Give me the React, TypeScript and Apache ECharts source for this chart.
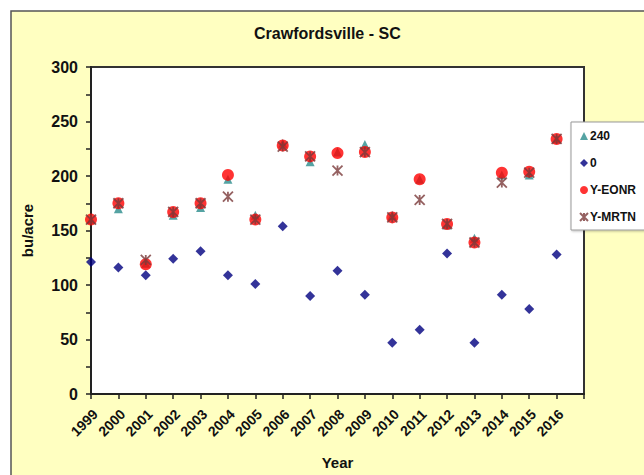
import React, { useEffect, useRef } from "react";
import * as echarts from "echarts";

const years = [1999, 2000, 2001, 2002, 2003, 2004, 2005, 2006, 2007, 2008, 2009, 2010, 2011, 2012, 2013, 2014, 2015, 2016];
const n240 = [160, 170, 120, 164, 171, 197, 164, 230, 213, 222, 229, 164, 197, 155, 143, 201, 201, 234];
const n0 = [121, 116, 109, 124, 131, 109, 101, 154, 90, 113, 91, 47, 59, 129, 47, 91, 78, 128];
const yEONR = [160, 175, 119, 167, 175, 201, 160, 228, 218, 221, 222, 162, 197, 156, 139, 203, 204, 234];
const yMRTN = [160, 175, 123, 167, 175, 181, 160, 227, 218, 205, 222, 162, 178, 156, 139, 194, 203, 234];
const seriesNames = ["240", "0", "Y-EONR", "Y-MRTN"];

const STAR = "path://M0,0 L10,10 M10,0 L0,10 M5,0 L5,10";
const FONT = "Arial, 'Liberation Sans', sans-serif";

function pairs(vals: number[]) {
  return years.map((y, i) => [y, vals[i]]);
}

export default function App() {
  const ref = useRef<HTMLDivElement>(null);
  useEffect(() => {
    if (!ref.current) return;
    const chart = echarts.init(ref.current, undefined, { renderer: "svg" });
    chart.setOption({
      animation: false,
      backgroundColor: "#ffffff",
      graphic: [
        {
          type: "rect",
          z: -100,
          shape: { x: 11, y: 11, width: 660, height: 500 },
          style: { fill: "#FFFFC1", stroke: "#555555", lineWidth: 1.5 },
        },
      ],
      title: {
        text: "Crawfordsville - SC",
        left: 254,
        top: 25,
        padding: 0,
        textStyle: { fontFamily: FONT, fontWeight: "bold", fontSize: 16, color: "#111" },
      },
      grid: {
        left: 91,
        top: 67,
        width: 493,
        height: 330,
        show: true,
        backgroundColor: "#ffffff",
        borderColor: "#333333",
        borderWidth: 2,
      },
      legend: {
        orient: "vertical",
        left: 571,
        top: 122,
        data: seriesNames,
        backgroundColor: "#ffffff",
        borderColor: "#999999",
        borderWidth: 1,
        padding: [8, 30, 7, 8],
        itemGap: 15,
        itemWidth: 8,
        itemHeight: 8,
        shadowColor: "rgba(0,0,0,0.25)",
        shadowBlur: 2,
        shadowOffsetX: 1,
        shadowOffsetY: 1,
        textStyle: { fontFamily: FONT, fontWeight: "bold", fontSize: 12, color: "#111", padding: [0, 0, 0, -3] },
      },
      xAxis: {
        type: "value",
        min: 1999,
        max: 2017,
        interval: 1,
        name: "Year",
        nameLocation: "middle",
        nameGap: 61,
        nameTextStyle: { fontFamily: FONT, fontWeight: "bold", fontSize: 15, color: "#111" },
        axisLine: { show: true, lineStyle: { color: "#222", width: 2 } },
        axisTick: { show: true, length: 5, lineStyle: { color: "#222", width: 1.5 } },
        splitLine: { show: false },
        axisLabel: {
          rotate: 45,
          margin: 22,
          padding: [0, -6, 0, 0],
          fontFamily: FONT,
          fontWeight: "bold",
          fontSize: 14,
          color: "#111",
          showMaxLabel: true,
          formatter: (v: number) => (v === 2017 ? "" : String(v)),
        },
      },
      yAxis: {
        type: "value",
        min: 0,
        max: 300,
        interval: 25,
        name: "bu/acre",
        nameLocation: "middle",
        nameGap: 56,
        nameRotate: 90,
        nameTextStyle: { fontFamily: FONT, fontWeight: "bold", fontSize: 15, color: "#111" },
        axisLine: { show: true, lineStyle: { color: "#222", width: 2 } },
        axisTick: { show: true, length: 5, lineStyle: { color: "#222", width: 1.5 } },
        splitLine: { show: false },
        axisLabel: {
          margin: 13,
          fontFamily: FONT,
          fontWeight: "bold",
          fontSize: 16,
          color: "#111",
          formatter: (v: number) => (v % 50 === 0 ? String(v) : ""),
        },
      },
      series: [
        {
          name: "240",
          type: "scatter",
          symbol: "triangle",
          symbolSize: 9,
          itemStyle: { color: "#2A8C8C" },
          data: pairs(n240),
        },
        {
          name: "0",
          type: "scatter",
          symbol: "diamond",
          symbolSize: 10,
          itemStyle: { color: "#000080" },
          data: pairs(n0),
        },
        {
          name: "Y-EONR",
          type: "scatter",
          symbol: "circle",
          symbolSize: 12,
          itemStyle: { color: "#FF0000" },
          data: pairs(yEONR),
        },
        {
          name: "Y-MRTN",
          type: "scatter",
          symbol: STAR,
          symbolSize: 10,
          itemStyle: { color: "#7B3A3A", borderColor: "#7B3A3A", borderWidth: 1.8 },
          data: pairs(yMRTN),
        },
      ],
    });
    return () => chart.dispose();
  }, []);
  return (
    <div
      ref={ref}
      style={{ position: "fixed", left: 0, top: 0, width: 644, height: 475 }}
    />
  );
}
